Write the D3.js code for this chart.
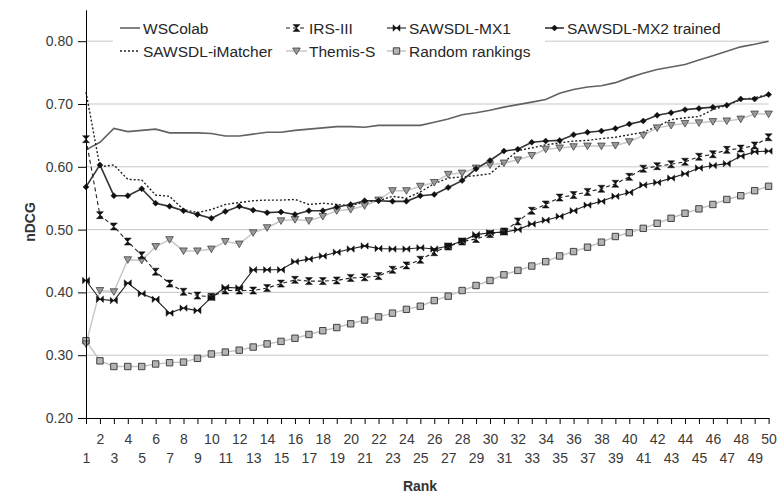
<!DOCTYPE html>
<html><head><meta charset="utf-8">
<script src="https://cdn.jsdelivr.net/npm/d3@7"></script>
<style>body{margin:0;background:#fff;font-family:"Liberation Sans",Arial,sans-serif;}</style>
</head><body><svg id="c" width="780" height="495"></svg>
<script>
const ranks = [1,2,3,4,5,6,7,8,9,10,11,12,13,14,15,16,17,18,19,20,21,22,23,24,25,26,27,28,29,30,31,32,33,34,35,36,37,38,39,40,41,42,43,44,45,46,47,48,49,50];
const yTicks = [0.2,0.3,0.4,0.5,0.6,0.7,0.8];
const seriesNames = ["WSColab","IRS-III","SAWSDL-MX1","SAWSDL-MX2 trained","SAWSDL-iMatcher","Themis-S","Random rankings"];
const wscolab = [0.627,0.639,0.661,0.656,0.658,0.660,0.654,0.654,0.654,0.653,0.649,0.649,0.652,0.655,0.655,0.658,0.660,0.662,0.664,0.664,0.663,0.666,0.666,0.666,0.666,0.671,0.676,0.683,0.686,0.690,0.695,0.699,0.703,0.707,0.717,0.723,0.727,0.729,0.734,0.742,0.749,0.755,0.759,0.763,0.770,0.777,0.784,0.791,0.795,0.800];
const imatcher = [0.719,0.600,0.603,0.580,0.579,0.555,0.553,0.532,0.527,0.532,0.540,0.543,0.546,0.547,0.547,0.548,0.540,0.542,0.540,0.538,0.544,0.546,0.553,0.550,0.560,0.573,0.582,0.584,0.586,0.589,0.607,0.626,0.630,0.635,0.638,0.641,0.642,0.645,0.647,0.651,0.655,0.664,0.675,0.678,0.680,0.691,0.698,0.707,0.710,0.715];
const mx2 = [0.568,0.603,0.554,0.554,0.565,0.542,0.537,0.530,0.524,0.518,0.529,0.537,0.531,0.527,0.528,0.524,0.530,0.530,0.536,0.540,0.546,0.546,0.545,0.545,0.554,0.556,0.567,0.578,0.597,0.610,0.625,0.628,0.639,0.641,0.642,0.651,0.655,0.657,0.661,0.668,0.673,0.682,0.686,0.691,0.693,0.695,0.698,0.708,0.708,0.715];
const themis = [0.318,0.403,0.401,0.452,0.451,0.473,0.484,0.466,0.466,0.469,0.481,0.477,0.495,0.503,0.514,0.516,0.514,0.521,0.530,0.532,0.538,0.547,0.562,0.562,0.569,0.575,0.588,0.590,0.598,0.603,0.606,0.611,0.618,0.628,0.630,0.632,0.633,0.633,0.634,0.640,0.650,0.662,0.666,0.669,0.670,0.672,0.673,0.676,0.684,0.684];
const irs = [0.644,0.523,0.505,0.481,0.459,0.433,0.414,0.401,0.395,0.393,0.403,0.403,0.403,0.407,0.414,0.420,0.418,0.418,0.419,0.423,0.424,0.426,0.436,0.443,0.452,0.464,0.473,0.481,0.485,0.493,0.497,0.513,0.530,0.540,0.551,0.555,0.560,0.565,0.573,0.584,0.597,0.601,0.604,0.608,0.616,0.620,0.627,0.629,0.634,0.647];
const mx1 = [0.419,0.389,0.387,0.415,0.398,0.389,0.367,0.375,0.371,0.392,0.408,0.407,0.436,0.436,0.436,0.449,0.453,0.458,0.464,0.469,0.474,0.470,0.469,0.469,0.471,0.469,0.474,0.482,0.492,0.495,0.496,0.500,0.509,0.515,0.521,0.530,0.539,0.545,0.553,0.559,0.571,0.575,0.582,0.589,0.598,0.602,0.605,0.617,0.624,0.625];
const random = [0.323,0.291,0.282,0.282,0.282,0.286,0.288,0.289,0.295,0.302,0.305,0.308,0.313,0.318,0.322,0.327,0.333,0.339,0.344,0.350,0.356,0.361,0.367,0.373,0.378,0.387,0.394,0.403,0.411,0.419,0.428,0.435,0.442,0.449,0.458,0.465,0.472,0.480,0.489,0.495,0.502,0.510,0.518,0.526,0.533,0.540,0.548,0.554,0.562,0.569];

const svg = d3.select("#c");
const x = d3.scalePoint().domain(ranks).range([86, 768.6]).padding(0);
const y = d3.scaleLinear().domain([0.2, 0.85]).range([418, 9.8]);

// gridlines
svg.append("g").selectAll("line").data(yTicks.slice(1)).join("line")
  .attr("x1", 86).attr("x2", 768.6).attr("y1", d => y(d)).attr("y2", d => y(d))
  .attr("stroke", "#c9c9c9").attr("stroke-width", 1);

// markers
const sym = {
  hourglass: "M-3.5,-3.5H3.5L-3.5,3.5H3.5Z",
  bowtie: "M-3.5,-3.2V3.2L3.5,-3.2V3.2Z",
  diamond: "M0,-3L3,0L0,3L-3,0Z",
  tri: "M-3.8,-3H3.8L0,3.6Z",
  square: "M-3.2,-3.2H3.2V3.2H-3.2Z"
};
const styles = [
  {name: seriesNames[6], data: random, stroke: "#c4c4c4", w: 1.5, dash: null, m: "square", mf: "#b4b4b4", ms: "#333", msw: 0.9},
  {name: seriesNames[5], data: themis, stroke: "#c8c8c8", w: 1.5, dash: null, m: "tri", mf: "#9a9a9a", ms: "#444", msw: 0.8},
  {name: seriesNames[0], data: wscolab, stroke: "#626262", w: 1.6, dash: null, m: null},
  {name: seriesNames[2], data: mx1, stroke: "#222", w: 1.1, dash: null, m: "bowtie", mf: "#111", ms: "#111", msw: 0.5},
  {name: seriesNames[1], data: irs, stroke: "#222", w: 1.1, dash: "4,3", m: "hourglass", mf: "#111", ms: "#111", msw: 0.5},
  {name: seriesNames[4], data: imatcher, stroke: "#222", w: 1.4, dash: "2,2", m: null},
  {name: seriesNames[3], data: mx2, stroke: "#333", w: 1.6, dash: null, m: "diamond", mf: "#111", ms: "#111", msw: 0.5}
];
const line = d3.line().x((d, i) => x(ranks[i])).y(d => y(d));
styles.forEach(s => {
  svg.append("path").datum(s.data).attr("d", line).attr("fill", "none")
    .attr("stroke", s.stroke).attr("stroke-width", s.w)
    .attr("stroke-dasharray", s.dash);
});
styles.forEach(s => {
  if (!s.m) return;
  svg.append("g").selectAll("path").data(s.data).join("path")
    .attr("transform", (d, i) => `translate(${x(ranks[i])},${y(d)})`)
    .attr("d", sym[s.m]).attr("fill", s.mf).attr("stroke", s.ms).attr("stroke-width", s.msw);
});

// axes
const ya = svg.append("g").attr("transform", "translate(86,0)")
  .call(d3.axisLeft(y).tickValues(yTicks).tickFormat(d3.format(".2f")).tickSize(8).tickSizeOuter(0).tickPadding(5));
ya.select(".domain").attr("stroke", "#000");
ya.selectAll(".tick line").attr("stroke", "#000");
ya.selectAll("text").attr("font-size", "14px").attr("fill", "#3a3a3a").attr("font-family", "Liberation Sans, Arial, sans-serif");

const xa = svg.append("g").attr("transform", "translate(0,418)")
  .call(d3.axisBottom(x).tickSize(6).tickSizeOuter(0));
xa.select(".domain").attr("stroke", "#000");
xa.selectAll(".tick line").attr("stroke", "#000");
xa.selectAll("text").attr("font-size", "14px").attr("fill", "#3a3a3a").attr("font-family", "Liberation Sans, Arial, sans-serif")
  .attr("dy", null).attr("y", d => d % 2 === 0 ? 26 : 45);

svg.append("text").attr("x", 420).attr("y", 491).attr("text-anchor", "middle")
  .attr("font-size", "14px").attr("font-weight", "bold").attr("fill", "#333").text("Rank");
svg.append("text").attr("transform", "translate(35,222) rotate(-90)").attr("text-anchor", "middle")
  .attr("font-size", "14px").attr("font-weight", "bold").attr("fill", "#333").text("nDCG");

// legend
svg.append("rect").attr("x", 113).attr("y", 12).attr("width", 432).attr("height", 52).attr("fill", "#fff");
const legendItems = [
  {s: styles[2], x1: 120, x2: 140, tx: 143, row: 0},
  {s: styles[4], x1: 286, x2: 307, tx: 309, row: 0},
  {s: styles[3], x1: 387, x2: 406, tx: 409, row: 0},
  {s: styles[6], x1: 545, x2: 564, tx: 567, row: 0},
  {s: styles[5], x1: 120, x2: 140, tx: 143, row: 1},
  {s: styles[1], x1: 286, x2: 307, tx: 309, row: 1},
  {s: styles[0], x1: 387, x2: 406, tx: 409, row: 1}
];
const rowY = [28, 51];
legendItems.forEach(it => {
  const cy = rowY[it.row], s = it.s;
  svg.append("line").attr("x1", it.x1).attr("x2", it.x2).attr("y1", cy).attr("y2", cy)
    .attr("stroke", s.stroke).attr("stroke-width", s.w).attr("stroke-dasharray", s.dash);
  if (s.m) svg.append("path").attr("transform", `translate(${(it.x1 + it.x2) / 2},${cy})`)
    .attr("d", sym[s.m]).attr("fill", s.mf).attr("stroke", s.ms).attr("stroke-width", s.msw);
  svg.append("text").attr("x", it.tx).attr("y", cy + 5.5).attr("font-size", "15.5px").attr("fill", "#262626")
    .text(s.name);
});
</script></body></html>
